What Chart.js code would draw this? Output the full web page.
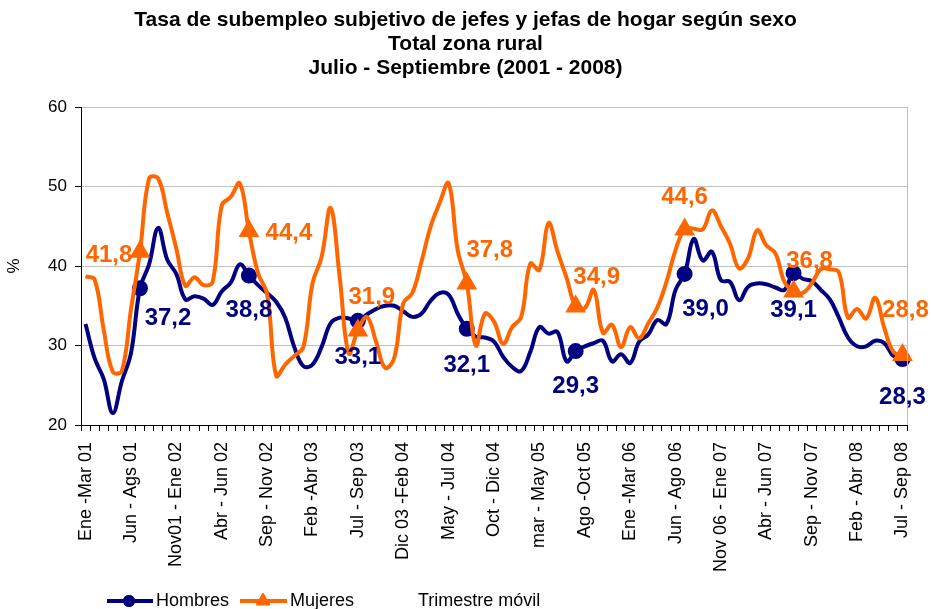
<!DOCTYPE html>
<html>
<head>
<meta charset="utf-8">
<script src="https://cdn.jsdelivr.net/npm/chart.js@4.4.0/dist/chart.umd.min.js"></script>
<style>
html,body{margin:0;padding:0;background:#ffffff;}
#wrap{width:931px;height:609px;}
</style>
</head>
<body>
<div id="wrap"><canvas id="c" width="931" height="609"></canvas></div>
<script>
// Tick labels shown on the axis (every 5th moving quarter)
const tickLabels = [
  "Ene -Mar 01","Jun - Ags 01","Nov01 - Ene 02","Abr - Jun 02","Sep - Nov 02",
  "Feb -Abr 03","Jul - Sep 03","Dic 03 -Feb 04","May - Jul 04","Oct - Dic 04",
  "mar - May 05","Ago -Oct 05","Ene -Mar 06","Jun - Ago 06","Nov 06 - Ene 07",
  "Abr - Jun 07","Sep - Nov 07","Feb - Abr 08","Jul - Sep 08"
];
const tickEvery = 5;

// Hombres (91 moving quarters, Ene-Mar 01 .. Jul-Sep 08)
const hombres = [
  32.7,28.4,25.8,21.5,25.5,29.0,37.2,40.2,44.8,40.8,
  39.0,35.8,36.2,35.9,35.1,36.8,37.9,40.2,38.8,37.6,
  36.6,35.5,33.5,29.8,27.4,27.6,29.8,32.8,33.5,33.4,
  33.1,33.9,34.6,35.0,35.0,34.3,33.6,34.0,35.6,36.6,
  36.4,34.0,32.1,31.1,31.0,30.5,28.6,27.3,26.8,29.2,
  32.3,31.5,31.7,28.0,29.3,29.9,30.3,30.6,28.0,28.9,
  27.8,30.5,31.4,33.2,32.7,37.0,39.0,43.4,40.7,41.8,
  38.2,38.0,35.7,37.4,37.8,37.7,37.3,37.0,39.1,38.4,
  38.1,37.0,35.8,33.5,31.0,29.9,29.9,30.6,30.3,28.7,
  28.3
];

// Mujeres
const mujeres = [
  38.7,38.3,32.0,26.7,26.8,34.5,41.8,51.0,51.0,46.7,
  42.2,37.5,38.6,37.6,38.0,47.6,48.7,50.4,44.4,39.1,
  36.5,26.2,27.6,28.7,29.8,37.8,41.1,47.3,38.6,29.0,
  31.9,33.6,30.5,27.2,28.4,35.3,36.6,40.5,44.9,47.9,
  50.4,42.0,37.8,30.0,34.0,33.0,30.2,32.3,33.6,40.3,
  39.5,45.4,41.8,38.5,34.9,34.7,37.0,31.6,32.6,29.8,
  32.3,30.9,32.8,34.8,38.0,42.0,44.6,44.7,44.6,47.0,
  45.0,42.8,39.7,41.0,44.5,42.6,41.6,38.0,36.8,36.6,
  37.8,39.6,39.6,39.2,33.5,34.6,33.4,36.0,32.2,29.2,
  28.8
];

// Jul-Sep quarters that are marked and labelled
const markedIdx = [6,18,30,42,54,66,78,90];

const categories = hombres.map((_, i) => (i % tickEvery === 0) ? tickLabels[i / tickEvery] : "");

const NAVY = "#000080";
const ORANGE = "#FF6600";
const FONT = "Arial, 'Liberation Sans', sans-serif";

// label offsets (style only)
const hOff = [[28,30],[0,35],[0,37],[0,37],[0,35],[21,35],[0,37],[0,38]];
const mOff = [[-31,4],[40,2],[14,-33],[23,-33],[21,-29],[0,-32],[16,-30],[3,-45]];

const radiusArr = hombres.map((_, i) => markedIdx.includes(i) ? 6 : 0);
const triArr = hombres.map((_, i) => markedIdx.includes(i) ? 8 : 0);

const fmt = v => v.toFixed(1).replace(".", ",");

const extras = {
  id: "extras",
  afterDatasetsDraw(chart) {
    const ctx = chart.ctx;
    const a = chart.chartArea;
    ctx.save();
    // right border
    ctx.strokeStyle = "#C0C0C0";
    ctx.lineWidth = 1;
    ctx.beginPath();
    ctx.moveTo(Math.round(a.right) + 0.5, a.top);
    ctx.lineTo(Math.round(a.right) + 0.5, a.bottom);
    ctx.stroke();

    // data labels
    ctx.font = "bold 24px " + FONT;
    ctx.textAlign = "center";
    ctx.textBaseline = "middle";
    const mh = chart.getDatasetMeta(0);
    const mm = chart.getDatasetMeta(1);
    markedIdx.forEach((idx, k) => {
      const p = mh.data[idx];
      ctx.fillStyle = NAVY;
      ctx.fillText(fmt(hombres[idx]), p.x + hOff[k][0], p.y + hOff[k][1]);
      const q = mm.data[idx];
      ctx.fillStyle = ORANGE;
      ctx.fillText(fmt(mujeres[idx]), q.x + mOff[k][0], q.y + mOff[k][1]);
    });

    // legend
    const ly = 601;
    ctx.lineWidth = 4;
    ctx.strokeStyle = NAVY;
    ctx.beginPath(); ctx.moveTo(107, ly); ctx.lineTo(153, ly); ctx.stroke();
    ctx.fillStyle = NAVY;
    Chart.helpers.drawPoint(ctx, {pointStyle: "circle", radius: 6, rotation: 0, borderWidth: 0}, 129, ly);
    ctx.fill();
    ctx.strokeStyle = ORANGE;
    ctx.beginPath(); ctx.moveTo(240, ly); ctx.lineTo(287, ly); ctx.stroke();
    ctx.fillStyle = ORANGE;
    ctx.lineWidth = 1;
    Chart.helpers.drawPoint(ctx, {pointStyle: "triangle", radius: 8, rotation: 0, borderWidth: 1}, 263, ly);
    ctx.fill();
    ctx.font = "18px " + FONT;
    ctx.textAlign = "left";
    ctx.fillStyle = "#000";
    ctx.fillText("Hombres", 156, ly);
    ctx.fillText("Mujeres", 290, ly);
    ctx.fillText("Trimestre móvil", 418, ly);
    ctx.restore();
  }
};

new Chart(document.getElementById("c"), {
  type: "line",
  data: {
    labels: categories,
    datasets: [
      {
        label: "Hombres",
        data: hombres,
        borderColor: NAVY,
        backgroundColor: NAVY,
        borderWidth: 4,
        tension: 0.4,
        pointRadius: radiusArr,
        pointStyle: "circle",
        pointBackgroundColor: NAVY,
        pointBorderColor: NAVY,
        order: 2
      },
      {
        label: "Mujeres",
        data: mujeres,
        borderColor: ORANGE,
        backgroundColor: ORANGE,
        borderWidth: 4,
        tension: 0.4,
        pointRadius: triArr,
        pointStyle: "triangle",
        pointBackgroundColor: ORANGE,
        pointBorderColor: ORANGE,
        order: 1
      }
    ]
  },
  options: {
    responsive: false,
    animation: false,
    devicePixelRatio: 1,
    layout: {padding: 0},
    plugins: {
      legend: {display: false},
      tooltip: {enabled: false},
      title: {
        display: true,
        text: ["Tasa de subempleo subjetivo de jefes y jefas de hogar según sexo", "Total zona rural", "Julio - Septiembre (2001 - 2008)"],
        color: "#000",
        font: {family: FONT, size: 21, weight: "bold", lineHeight: "24px"},
        padding: {top: 8, bottom: 27}
      }
    },
    scales: {
      x: {
        type: "category",
        offset: true,
        grid: {offset: true, drawOnChartArea: false, drawTicks: true, tickLength: 6, tickColor: "#000"},
        border: {color: "#000", width: 1},
        ticks: {autoSkip: false, maxRotation: 90, minRotation: 90, color: "#000", font: {family: FONT, size: 18}, padding: 11},
        afterFit(s) { s.height = 184; s.paddingLeft = 0; s.paddingRight = 24; }
      },
      y: {
        min: 20,
        max: 60,
        ticks: {stepSize: 10, color: "#000", font: {family: FONT, size: 17}, padding: 8},
        grid: {color: "#C0C0C0", tickColor: "#000", tickLength: 6},
        border: {color: "#000", width: 1},
        title: {display: true, text: "%", color: "#000", font: {family: FONT, size: 17}},
        afterFit(s) { s.width = 81; }
      }
    }
  },
  plugins: [extras]
});
</script>
</body>
</html>
